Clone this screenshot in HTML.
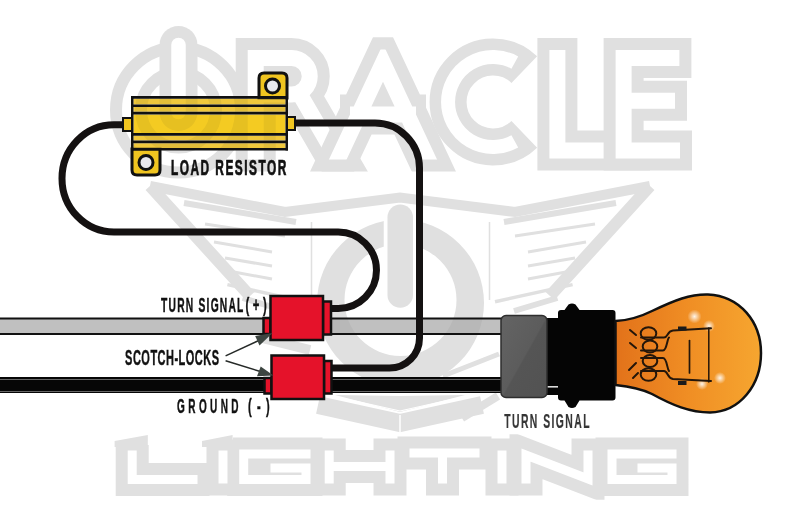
<!DOCTYPE html>
<html><head><meta charset="utf-8">
<style>
html,body{margin:0;padding:0;background:#fff;}
body{width:800px;height:528px;overflow:hidden;}
svg{display:block;filter:blur(0.35px);}
text{font-family:"Liberation Sans",sans-serif;}
</style></head>
<body>
<svg width="800" height="528" viewBox="0 0 800 528">
<rect x="0" y="0" width="800" height="528" fill="#ffffff"/>

<!-- ===== WATERMARK: ORACLE ===== -->
<defs>
  <clipPath id="cg"><rect x="0" y="37.3" width="800" height="134.2"/></clipPath>
  <clipPath id="cw"><rect x="0" y="49.5" width="800" height="110"/></clipPath>
</defs>
<g id="oracle" stroke-linejoin="miter" stroke-miterlimit="20" fill="none">
  <!-- O power ring -->
  <circle cx="178.5" cy="110" r="50" stroke="#e0e0e0" stroke-width="37"/>
  <circle cx="178.5" cy="110" r="50" stroke="#fff" stroke-width="13"/>
  <path d="M178.5,45 V112" stroke="#e0e0e0" stroke-width="38" stroke-linecap="round"/>
  <path d="M178.5,45 V112" stroke="#fff" stroke-width="14.5" stroke-linecap="round"/>
  <!-- R -->
  <path clip-path="url(#cg)" d="M255.7,200 V58 H291.5 A18.25,18.25 0 0 1 291.5,94.5 H255.7 M300,94.5 L363,203" stroke="#e0e0e0" stroke-width="40" stroke-linecap="square"/>
  <path clip-path="url(#cw)" d="M255.7,200 V58 H291.5 A18.25,18.25 0 0 1 291.5,94.5 H255.7 M300,94.5 L363,203" stroke="#fff" stroke-width="16" stroke-linecap="square"/>
  <!-- A -->
  <path clip-path="url(#cg)" d="M318.8,200 L383,62.9 L447.2,200 M340,114.5 H426" stroke="#e0e0e0" stroke-width="40"/>
  <path clip-path="url(#cw)" d="M318.8,200 L383,62.9 L447.2,200 M350,114.5 H416" stroke="#fff" stroke-width="16"/>
  <!-- C -->
  <path d="M524.3,69.6 A45,45 0 1 0 524.3,134.4" stroke="#e0e0e0" stroke-width="37" stroke-linecap="butt"/>
  <path d="M514.8,62.6 A45,45 0 1 0 514.8,141.4" stroke="#fff" stroke-width="14" stroke-linecap="butt"/>
  <!-- L -->
  <path d="M557.4,58 V150.4 H630" stroke="#e0e0e0" stroke-width="40" stroke-linecap="square"/>
  <path d="M557.4,58 V150.4 H630" stroke="#fff" stroke-width="16" stroke-linecap="square"/>
  <!-- E -->
  <path d="M671.4,58 H623.6 V150.5 H672 M623.6,100.8 H667" stroke="#e0e0e0" stroke-width="40" stroke-linecap="square"/>
  <path d="M671.4,58 H623.6 V150.5 H672 M623.6,100.8 H667" stroke="#fff" stroke-width="16" stroke-linecap="square"/>
</g>

<!-- ===== WATERMARK: EMBLEM ===== -->
<g id="emblem" fill="none" stroke="#e0e0e0" stroke-linejoin="miter">
  <path d="M150,186 L285,212 L400,197.5 L515,212 L650,186" stroke-width="10"/>
  <path d="M150,186 L250,296 M650,186 L550,296" stroke-width="12"/>
  <path d="M305,301.7 L227.4,284.6 M495,301.7 L572.6,284.6" stroke-width="3.5"/>
  <path d="M286,311 L242.6,298 M514,311 L557.4,298" stroke-width="6"/>
  <path d="M184,203 L296,222 M616,203 L504,222" stroke-width="6"/>
  <path d="M205,224 L285,236 M214,242 L272,252 M225,258 L272,266 M234,272 L272,279" stroke-width="3"/>
  <path d="M595,224 L515,236 M586,242 L528,252 M575,258 L528,266 M566,272 L528,279" stroke-width="3"/>
  <path d="M262,338 L310,350" stroke-width="10"/>
  <path d="M443,376 L499,354" stroke-width="5"/>
  <path d="M462,418 L498,396" stroke-width="8"/>
  <!-- ring -->
  <path d="M484,303 A83.5,83.5 0 1 0 317,303 A83.5,83.5 0 1 0 484,303 Z M456.5,300 A56,56 0 1 0 344.5,300 A56,56 0 1 0 456.5,300 Z" fill="#e0e0e0" fill-rule="evenodd" stroke="none"/>
  <rect x="383.75" y="205" width="33.5" height="50" fill="#fff" stroke="none"/>
  <path d="M400.25,217.2 V295" stroke-width="25.5" stroke-linecap="round"/>
  <path d="M311.5,222 V300 M489.5,222 V300" stroke-width="1.5"/>
  <!-- bottom chevron -->
  <path d="M318,405 L400,423 L482,405" stroke-width="18"/>
  <path d="M335,395 L400,396 L465,395 L400,412 Z" fill="#e0e0e0" stroke="none"/>
  <path d="M342,398 L400,411 L458,398" stroke="#fff" stroke-width="1.2"/>
  <path d="M400,415 V433" stroke="#fff" stroke-width="1.5"/>
</g>

<!-- ===== WATERMARK: LIGHTING ===== -->
<g id="lighting" fill="none" stroke-linecap="square" stroke-linejoin="miter">
  <clipPath id="cl"><rect x="0" y="434.3" width="800" height="65.5"/></clipPath>
  <g stroke="#e0e0e0" stroke-width="33" clip-path="url(#cl)">
    <path d="M132.2,455 V479.5 H193"/>
    <path d="M223,455 V479"/>
    <path d="M306,454 H243.7 V479.5 H306 V468 H275"/>
    <path d="M329.2,455 V479 M329.2,466.5 H390 M390,455 V479"/>
    <path d="M414,453 H475 M442.5,453 V479"/>
    <path d="M502,455 V479"/>
    <path d="M526,479 V455 L588,479 V455"/>
    <path d="M672,454 H612 V479.5 H672 V468 H642"/>
  </g>
  <g stroke="#fff" stroke-width="9">
    <path d="M132.2,455 V479.5 H193"/>
    <path d="M223,455 V479"/>
    <path d="M306,454 H243.7 V479.5 H306 V468 H275"/>
    <path d="M329.2,455 V479 M329.2,466.5 H390 M390,455 V479"/>
    <path d="M414,453 H475 M442.5,453 V479"/>
    <path d="M502,455 V479"/>
    <path d="M526,479 V455 L588,479 V455"/>
    <path d="M672,454 H612 V479.5 H672 V468 H642"/>
  </g>
</g>

<rect x="112" y="428" width="37" height="17" fill="#fff"/>
<path d="M114.6,441.1 L147.8,435 V447 H114.6 Z" fill="#e0e0e0"/>
<rect x="199" y="428" width="34" height="13" fill="#fff"/>
<path d="M202,441.1 L232.6,435 V439.4 H240 V447 H202 Z" fill="#e0e0e0"/>

<!-- ===== HARNESS BARS ===== -->
<rect x="-6" y="318.5" width="508" height="15.5" fill="#aaaaaa" fill-opacity="0.74" stroke="#111" stroke-width="2"/>
<rect x="0" y="377" width="502" height="16" fill="#060606"/>
<rect x="0" y="379" width="502" height="1" fill="#666"/>
<rect x="0" y="391" width="502" height="1" fill="#666"/>

<!-- ===== WIRES ===== -->
<g fill="none" stroke="#141111" stroke-width="7" stroke-linecap="butt">
  <path d="M126,124.8 H114 A52,53.6 0 0 0 114,232 H338.25 A38.25,38.25 0 0 1 338.25,308.5 H329"/>
  <path d="M292,123 H375 A44.5,45 0 0 1 419.5,168 V338 A30,30 0 0 1 389.5,368 H329"/>
</g>

<!-- ===== RESISTOR ===== -->
<g id="resistor">
  <rect x="123" y="118" width="9" height="13" fill="#f0c520" stroke="#111" stroke-width="2"/>
  <rect x="287" y="117" width="8" height="13" fill="#f0c520" stroke="#111" stroke-width="2"/>
  <path d="M259,98 V78 Q259,73 264,73 H282 Q287,73 287,78 V98 Z" fill="#f0c520" stroke="#111" stroke-width="3"/>
  <circle cx="272.5" cy="86" r="7" fill="#e8e8ec" stroke="#111" stroke-width="3"/>
  <path d="M132,149 V170 Q132,175 137,175 H155 Q160,175 160,170 V149 Z" fill="#f0c520" stroke="#111" stroke-width="3"/>
  <circle cx="146" cy="162.5" r="7" fill="#e8e8ec" stroke="#111" stroke-width="3"/>
  <rect x="133.5" y="98.75" width="152" height="49.25" fill="#fff" fill-opacity="0.55"/>
  <g style="mix-blend-mode:multiply">
  <rect x="133.5" y="98.75" width="152" height="5.75" fill="#f0c83c"/>
  <rect x="133.5" y="107" width="152" height="4.75" fill="#f0c83c"/>
  <rect x="133.5" y="114.5" width="152" height="18.5" fill="#f4cb22"/>
  <rect x="133.5" y="135.75" width="152" height="4.75" fill="#f0c83c"/>
  <rect x="133.5" y="143.25" width="152" height="4.75" fill="#f0c83c"/>
  </g>
  <g fill="#111">
  <rect x="131" y="96" width="157" height="2.75"/>
  <rect x="131" y="148" width="157" height="2.5"/>
  <rect x="131" y="96" width="2.5" height="54.5"/>
  <rect x="285.5" y="96" width="2.5" height="54.5"/>
  <rect x="131" y="104.5" width="157" height="2.5"/>
  <rect x="131" y="111.75" width="157" height="2.75"/>
  <rect x="131" y="133" width="157" height="2.75"/>
  <rect x="131" y="140.5" width="157" height="2.75"/>
  </g>
</g>

<!-- ===== SCOTCH LOCKS ===== -->
<g stroke="#111" stroke-width="2.5" fill="#e5122a">
  <rect x="263.5" y="318" width="7" height="16"/>
  <rect x="323" y="301.5" width="8" height="33"/>
  <rect x="270.5" y="296" width="52.5" height="44"/>
  <rect x="264.5" y="378" width="7" height="15.5"/>
  <rect x="324" y="361" width="7.5" height="32.5"/>
  <rect x="271.5" y="355.5" width="52.5" height="43.5"/>
</g>

<!-- arrows -->
<g stroke="#262a28" stroke-width="1.5" fill="none">
  <path d="M225.6,355.9 L262,339"/>
  <path d="M225.6,360.8 L262,372"/>
</g>
<path d="M272.5,333 L255.2,336.1 L259.5,345.4 Z" fill="#3d4541"/>
<path d="M273.5,375.5 L260.7,366.4 L257,376.2 Z" fill="#3d4541"/>

<!-- ===== SOCKET ===== -->
<rect x="546" y="318" width="13" height="77" fill="#050505"/>
<rect x="546" y="386" width="12" height="1.6" fill="#ddd"/>
<defs><linearGradient id="sg" x1="0" y1="0" x2="1" y2="1">
<stop offset="0" stop-color="#646464"/><stop offset="0.5" stop-color="#5c5c5c"/><stop offset="0.52" stop-color="#555"/><stop offset="1" stop-color="#525252"/></linearGradient></defs>
<rect x="501" y="315.5" width="46" height="82" rx="5" fill="url(#sg)" stroke="#2e2e2e" stroke-width="1.5"/>
<path d="M558,313 Q558,310 561,310 H564.5 L568.5,304.5 Q572,302.5 575.5,304.5 L579.5,310 H612.5 Q615.5,310 615.5,313 V397.5 Q615.5,400.5 612.5,400.5 H579.5 L575.5,407 Q572,409 568.5,407 L564.5,400.5 H561 Q558,400.5 558,397.5 Z" fill="#050505"/>

<!-- ===== BULB ===== -->
<defs>
  <linearGradient id="bg" x1="0" y1="0" x2="1" y2="0">
    <stop offset="0" stop-color="#e2721a"/>
    <stop offset="0.5" stop-color="#f08e24"/>
    <stop offset="1" stop-color="#f6a630"/>
  </linearGradient>
  <radialGradient id="glow">
    <stop offset="0" stop-color="#fff" stop-opacity="0.9"/>
    <stop offset="1" stop-color="#fff" stop-opacity="0"/>
  </radialGradient>
</defs>
<path d="M615.5,321 C626,320.5 638,318 652,311 C675,300 690,294 708,294.5 C740,296 761,322 761,353 C761,385 740,412 710,412.5 C690,412.5 672,405 652,394 C640,388 625,386 615.5,385 Z" fill="url(#bg)" stroke="#111" stroke-width="2.5"/>
<circle cx="694.5" cy="316.5" r="7" fill="url(#glow)"/>
<circle cx="709" cy="326" r="6" fill="url(#glow)"/>
<circle cx="720" cy="378" r="6" fill="url(#glow)"/>
<circle cx="702" cy="384" r="6" fill="url(#glow)"/>
<g fill="none" stroke="#24160a" stroke-width="2" stroke-linecap="round">
  <ellipse cx="648.5" cy="333.5" rx="7.8" ry="6.3"/>
  <ellipse cx="650" cy="346.5" rx="7.3" ry="6"/>
  <ellipse cx="650" cy="361" rx="7.3" ry="6"/>
  <ellipse cx="648.5" cy="374.5" rx="7.8" ry="6.3"/>
  <path d="M630,330 L636,335 M630,343 L636,348 M629,370 L636,363 M633,378 L638,373"/>
  <path d="M641,337.5 H664 C668,337.5 667,331 673,330.5 L711,328.3"/>
  <path d="M641,350.5 H663 C667,350.5 667,339 669,337.5"/>
  <path d="M641,371 H664 C668,371 667,378 673,379 L711,381"/>
  <path d="M641,358 H663 C667,358 667,369 669,371"/>
  <path d="M708.8,328 V382" stroke-width="1.5"/>
  <path d="M689.5,340.6 V373" stroke-width="1.7"/>
</g>
<rect x="678" y="326.5" width="8.5" height="4" fill="#1a1a1a"/>
<rect x="678" y="381" width="8.5" height="4" fill="#1a1a1a"/>

<!-- ===== TEXT ===== -->
<g font-weight="bold" fill="#111" stroke="#111" stroke-width="0.45">
  <text transform="translate(170.9,175.3) scale(0.54,1)" font-size="22" letter-spacing="2.8" stroke-width="0.75">LOAD RESISTOR</text>
  <text transform="translate(161.0,311.6) scale(0.5,1)" font-size="20.5" letter-spacing="2.48">TURN SIGNAL</text>
  <text transform="translate(245.4,311.6) scale(0.55,1)" font-size="20.5" letter-spacing="6.6">(+)</text>
  <text transform="translate(125.1,364.5) scale(0.5,1)" font-size="22" letter-spacing="0.98">SCOTCH-LOCKS</text>
  <text transform="translate(177.1,413.0) scale(0.5,1)" font-size="20" letter-spacing="6.8">GROUND</text>
  <text transform="translate(248.0,413.0) scale(0.55,1)" font-size="20" letter-spacing="9.6">(-)</text>
</g>
<text transform="translate(504.2,428.3) scale(0.52,1)" font-size="20" letter-spacing="2.77" font-weight="bold" fill="#353535" stroke="#353535" stroke-width="0.2">TURN SIGNAL</text>
</svg>
</body></html>
